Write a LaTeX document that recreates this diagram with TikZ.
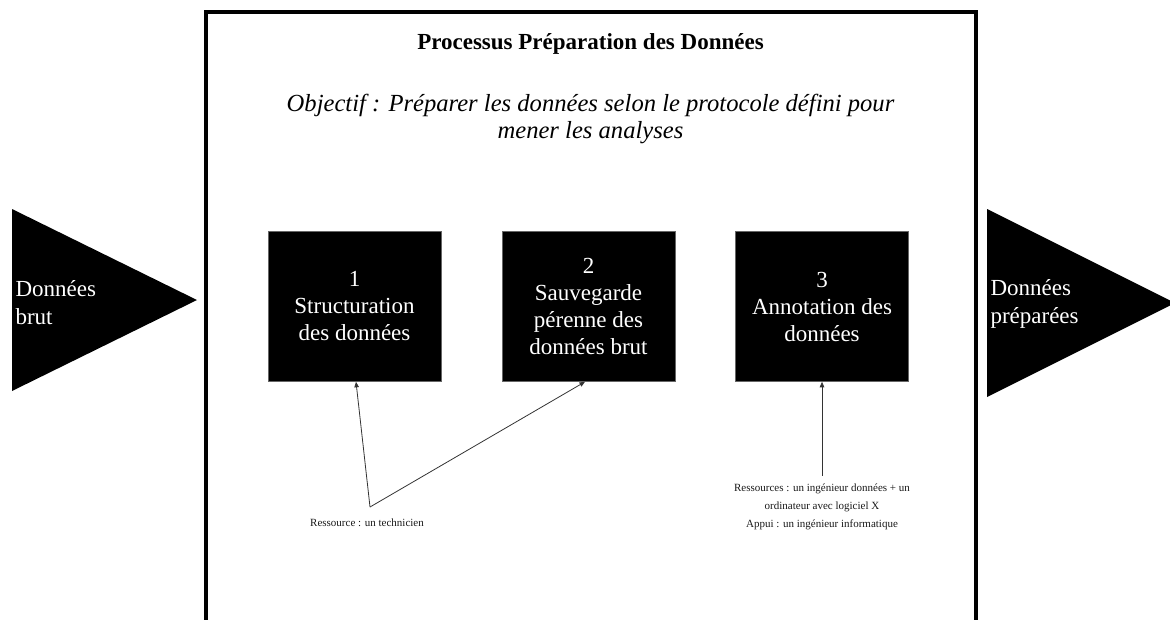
\documentclass[tikz,border=0pt]{standalone}
\usepackage{fontspec}
\setmainfont{Liberation Serif}
\usetikzlibrary{arrows.meta,positioning}

\begin{document}
\begin{tikzpicture}[x=1pt, y=-1pt,
    etape/.style={fill=black, draw=black!60, line width=0.6pt, minimum width=173pt, minimum height=150pt, inner sep=0pt, text=white, align=center, font=\fontsize{23}{27}\selectfont},
    flux/.style={anchor=west, align=left, text=white, font=\fontsize{23}{28}\selectfont},
    fleche/.style={draw=black!80, line width=0.8pt, -{Triangle[length=5.5pt,width=4.5pt]}},
    ressource/.style={align=center, inner sep=2pt, text=black!90, font=\fontsize{11}{18}\selectfont}]
    \useasboundingbox (0,0) rectangle (1170,619);
    % cadre du processus
    \draw[line width=4pt] (206,640) -- (206,12) -- (975.5,12) -- (975.5,640);
    \node[font=\fontsize{23}{27}\selectfont\bfseries] (titre) at (590.5,44) {Processus Préparation des Données};
    \node[align=center, font=\fontsize{24.6}{27}\selectfont\itshape] (objectif) at (590.5,118.5) {Objectif : Préparer les données selon le protocole défini pour\\mener les analyses};
    % entree et sortie
    \fill (12,209) -- (12,391) -- (197,300) -- cycle;
    \fill (987,209) -- (987,397) -- (1175,303) -- cycle;
    \node[flux] (entree) at (12,302.5) {Données\\brut};
    \node[flux] (sortie) at (987,304) {Données\\préparées};
    % etapes
    \node[etape] (etape1) at (354.5,306.5) {1\\Structuration\\des données};
    \node[etape] (etape2) at (588.5,306.5) {2\\Sauvegarde\\pérenne des\\données brut};
    \node[etape] (etape3) at (822,306.5) {3\\Annotation des\\données};
    % ressources
    \coordinate (fourche) at (370,507);
    \node[ressource] (technicien) at (367,523) {Ressource : un technicien};
    \node[ressource] (ingenieur) at (822,507) {Ressources : un ingénieur données + un\\ordinateur avec logiciel X\\Appui : un ingénieur informatique};
    \draw[fleche] (fourche) -- ([xshift=1.5pt]etape1.south);
    \draw[fleche] (fourche) -- ([xshift=-3.5pt]etape2.south);
    \draw[fleche] ([yshift=6pt]ingenieur.north) -- (etape3.south);
\end{tikzpicture}
\end{document}
